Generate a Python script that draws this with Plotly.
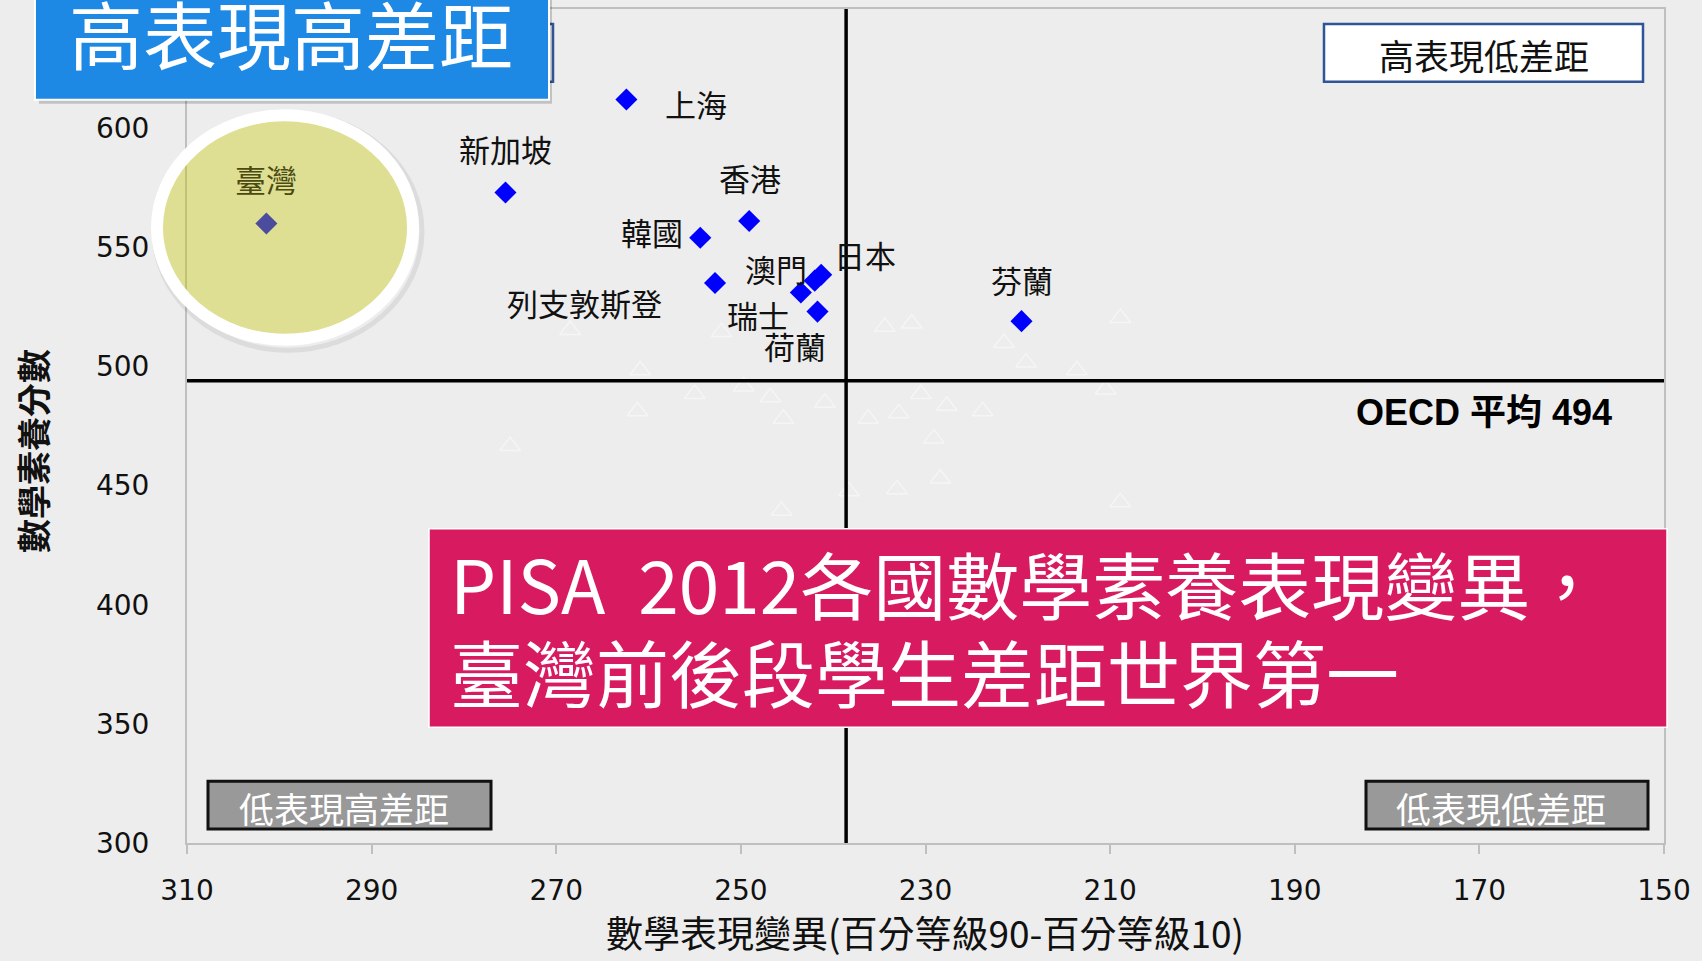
import plotly.graph_objects as go

# ---------------- data ----------------
countries = ["上海", "新加坡", "臺灣", "香港", "韓國", "列支敦斯登", "澳門", "日本", "瑞士", "荷蘭", "芬蘭"]
variation = [262.4, 275.5, 301.4, 249.1, 254.4, 252.8, 241.3, 242.0, 243.5, 241.7, 219.6]
math_score = [612, 573, 560, 561, 554, 535, 538.5, 536, 531, 523, 519]
# label offsets (pixels) relative to each point
label_dx = [70, 0, 0, 1, -48, -131, -45, 50, -43, -22, 0]
label_dy = [-4, 44, 45, 44, 6, -19, 6, 26, -22, -34, 42]

# faint remnants of other countries (barely visible triangles)
other_variation = [268.5, 260.9, 261.2, 275.0, 255.0, 252.1, 249.7, 246.8, 245.4, 240.9, 236.2, 232.9,
                   230.5, 227.7, 223.8, 229.1, 228.4, 233.1, 238.3, 245.6, 234.4, 231.5, 221.5, 219.1,
                   213.6, 208.9, 210.5, 208.9]
other_score = [515.3, 498.4, 481.2, 466.6, 488.4, 514.4, 491.6, 487.1, 478.0, 484.8, 478.0, 480.3,
               488.4, 483.5, 481.2, 469.8, 453.0, 448.5, 447.6, 439.4, 516.6, 518.0, 509.8, 501.6,
               498.4, 520.3, 490.3, 443.0]

OECD_MEAN_SCORE = 494
OECD_MEAN_VARIATION = 238.6

x_ticks = [310, 290, 270, 250, 230, 210, 190, 170, 150]
y_ticks = [300, 350, 400, 450, 500, 550, 600]
X_RANGE = [310, 150]
Y_RANGE = [300, 650]

# ---------------- layout helpers ----------------
W, H = 1702, 961
L, R, T, B = 187, 38, 7, 118
PW, PH = W - L - R, H - T - B


def px(x):
    return (x - L) / PW


def py(y):
    return (H - B - y) / PH


CJK = "Noto Sans CJK TC"
NUM = "DejaVu Sans"
BG = "#EDEDED"

fig = go.Figure()

# faint other countries
fig.add_trace(go.Scatter(
    x=other_variation, y=other_score, mode="markers",
    marker=dict(symbol="triangle-up-open", size=18, color="rgba(255,255,255,0.45)", line=dict(width=1.5)),
    hoverinfo="skip", showlegend=False))

# OECD mean lines
fig.add_trace(go.Scatter(x=[OECD_MEAN_VARIATION, OECD_MEAN_VARIATION], y=Y_RANGE, mode="lines",
                         line=dict(color="black", width=3.5), hoverinfo="skip", showlegend=False))
fig.add_trace(go.Scatter(x=X_RANGE, y=[OECD_MEAN_SCORE, OECD_MEAN_SCORE], mode="lines",
                         line=dict(color="black", width=3.5), hoverinfo="skip", showlegend=False))

# countries
fig.add_trace(go.Scatter(
    x=variation, y=math_score, mode="markers", text=countries,
    marker=dict(symbol="diamond", size=17, color="#0000FF", line=dict(width=0)),
    hovertemplate="%{text}: %{x}, %{y}<extra></extra>", showlegend=False))

annotations = []
for c, xv, yv, dx, dy in zip(countries, variation, math_score, label_dx, label_dy):
    annotations.append(dict(
        x=xv, y=yv, xref="x", yref="y", text=c, showarrow=False,
        xshift=dx, yshift=dy, xanchor="center", yanchor="middle",
        font=dict(family=CJK, size=31, color="#4A4A12" if c == "臺灣" else "#111111")))


def note(xp, ypix, text, size, color, family=CJK, xanchor="center", **kw):
    annotations.append(dict(x=px(xp), y=py(ypix), xref="paper", yref="paper", text=text,
                            showarrow=False, xanchor=xanchor, yanchor="middle",
                            font=dict(family=family, size=size, color=color), **kw))


# OECD label
note(1614, 411, "<b>OECD 平均 494</b>", 36, "black", family="Liberation Sans, " + CJK, xanchor="right")

# axis titles
note(925, 932, "數學表現變異(百分等級90-百分等級10)", 37, "#111111")
note(33, 450, "<b>數學素養分數</b>", 34, "#111111", textangle=-90)

shapes = []
# Taiwan highlight ellipse
shapes.append(dict(type="circle", xref="paper", yref="paper", layer="above",
                   x0=px(154), x1=px(422), y0=py(111), y1=py(349),
                   line=dict(color="rgba(0,0,0,0.07)", width=5), fillcolor="rgba(0,0,0,0)"))
shapes.append(dict(type="circle", xref="paper", yref="paper", layer="above",
                   x0=px(157), x1=px(413), y0=py(113.5), y1=py(338.5),
                   line=dict(color="white", width=12), fillcolor="rgba(200,200,0,0.38)"))

# top-right box
shapes.append(dict(type="rect", xref="paper", yref="paper", layer="above",
                   x0=px(1324), x1=px(1643), y0=py(22), y1=py(80),
                   line=dict(color="#2F5597", width=2.5), fillcolor="white"))
note(1484, 53, "高表現低差距", 35, "#111111")

# bottom boxes
for x0, x1, label in [(208, 491, "低表現高差距"), (1366, 1648, "低表現低差距")]:
    shapes.append(dict(type="rect", xref="paper", yref="paper", layer="above",
                       x0=px(x0), x1=px(x1), y0=py(781), y1=py(829),
                       line=dict(color="#111111", width=3), fillcolor="#999999"))
    note((x0 + x1) / 2 - 6, 807, label, 35, "white")

# original excel box behind the blue banner
shapes.append(dict(type="rect", xref="paper", yref="paper", layer="above",
                   x0=px(200), x1=px(553), y0=py(22), y1=py(80),
                   line=dict(color="#2F5597", width=2.5), fillcolor="white"))
# blue banner + shadow
shapes.append(dict(type="rect", xref="paper", yref="paper", layer="above",
                   x0=px(39), x1=px(552), y0=py(-10), y1=py(102),
                   line=dict(width=0), fillcolor="rgba(0,0,0,0.18)"))
shapes.append(dict(type="rect", xref="paper", yref="paper", layer="above",
                   x0=px(35), x1=px(549), y0=py(-10), y1=py(98),
                   line=dict(color="white", width=2), fillcolor="#1E88E5"))
note(291, 30, "高表現高差距", 74, "white")

# red title box
shapes.append(dict(type="rect", xref="paper", yref="paper", layer="above",
                   x0=px(429), x1=px(1667), y0=py(528), y1=py(727),
                   line=dict(color="white", width=1.5), fillcolor="#D81B60"))
note(448, 581, "PISA  2012各國數學素養表現變異，", 73, "white", xanchor="left")
note(448, 670, "臺灣前後段學生差距世界第一", 73, "white", xanchor="left")

fig.update_layout(
    width=W, height=H,
    margin=dict(l=L, r=R, t=T, b=B, pad=0),
    paper_bgcolor=BG, plot_bgcolor=BG,
    showlegend=False,
    annotations=annotations, shapes=shapes,
    xaxis=dict(range=X_RANGE, tickvals=x_ticks, ticks="outside", ticklen=9, tickwidth=1.5,
               tickcolor="#BFBFBF", showline=True, linecolor="#BFBFBF", linewidth=2, mirror=True,
               showgrid=False, zeroline=False, ticklabelstandoff=12,
               tickfont=dict(family=NUM, size=28, color="#111111")),
    yaxis=dict(range=Y_RANGE, tickvals=y_ticks, ticks="", showline=True, linecolor="#BFBFBF",
               linewidth=2, mirror=True, showgrid=False, zeroline=False, ticklabelstandoff=30,
               tickfont=dict(family=NUM, size=28, color="#111111")),
)

fig.write_html("out.html", config={"displayModeBar": False},
               post_script="document.body.style.margin='0';document.body.style.overflow='hidden';")
